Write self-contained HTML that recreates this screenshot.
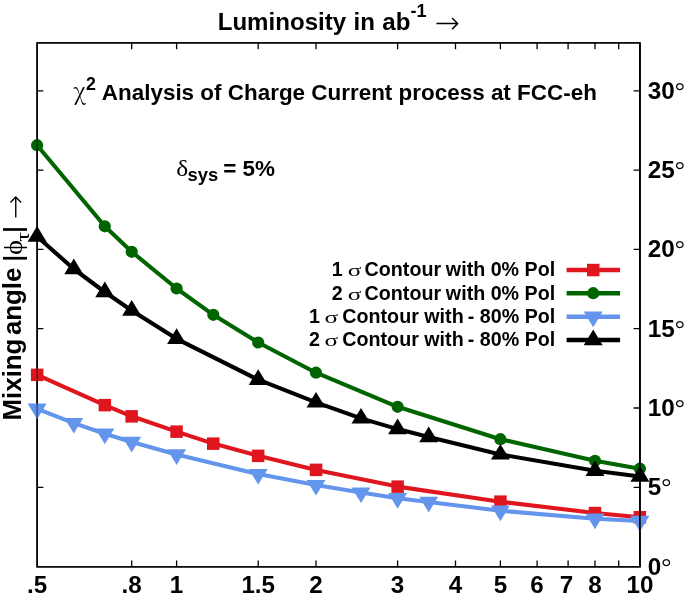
<!DOCTYPE html>
<html lang="en"><head><meta charset="utf-8"><title>Chi-square analysis plot</title>
<style>html,body{margin:0;padding:0;background:#fff;overflow:hidden}svg{display:block}</style>
</head><body>
<svg width="685" height="602" viewBox="0 0 685 602">
<rect width="685" height="602" fill="#fff"/>
<g stroke="#000" fill="none">
<rect x="37.1" y="42.9" width="602.8" height="524.0" stroke-width="1.7"/>
<path d="M131.7 42.9v6.3M131.7 566.9v-6.3" stroke-width="1.3"/>
<path d="M176.6 42.9v6.3M176.6 566.9v-6.3" stroke-width="1.3"/>
<path d="M258.2 42.9v6.3M258.2 566.9v-6.3" stroke-width="1.3"/>
<path d="M316.0 42.9v6.3M316.0 566.9v-6.3" stroke-width="1.3"/>
<path d="M397.6 42.9v6.3M397.6 566.9v-6.3" stroke-width="1.3"/>
<path d="M455.5 42.9v6.3M455.5 566.9v-6.3" stroke-width="1.3"/>
<path d="M500.4 42.9v6.3M500.4 566.9v-6.3" stroke-width="1.3"/>
<path d="M537.1 42.9v6.3M537.1 566.9v-6.3" stroke-width="1.3"/>
<path d="M568.1 42.9v6.3M568.1 566.9v-6.3" stroke-width="1.3"/>
<path d="M595.0 42.9v6.3M595.0 566.9v-6.3" stroke-width="1.3"/>
<path d="M618.7 42.9v6.3M618.7 566.9v-6.3" stroke-width="1.3"/>
<path d="M37.1 487.3h6.3M639.9 487.3h-6.3" stroke-width="1.3"/>
<path d="M37.1 408.0h6.3M639.9 408.0h-6.3" stroke-width="1.3"/>
<path d="M37.1 328.7h6.3M639.9 328.7h-6.3" stroke-width="1.3"/>
<path d="M37.1 249.4h6.3M639.9 249.4h-6.3" stroke-width="1.3"/>
<path d="M37.1 170.1h6.3M639.9 170.1h-6.3" stroke-width="1.3"/>
<path d="M37.1 90.8h6.3M639.9 90.8h-6.3" stroke-width="1.3"/>
</g>
<g fill="#000" font-family="Liberation Sans, Arial, Helvetica, sans-serif" font-weight="bold">
<text transform="translate(217.7 29.8) scale(1 1.015)" font-size="24.1" word-spacing="0.7">Luminosity in ab<tspan font-size="18" dy="-12.2">-1</tspan></text>
<text x="434.4" y="32.5" font-family="DejaVu Sans, sans-serif" font-weight="200" font-size="30">→</text>
<text transform="translate(73.6 100) scale(0.93 1)" font-family="Noto Serif CJK SC, Liberation Serif, serif" font-weight="normal" font-size="24">χ</text>
<text transform="translate(86 89.8) scale(1 1.015)" font-size="17.8" >2</text>
<text transform="translate(101.8 100.1) scale(1 1.015)" font-size="22.45" >Analysis of Charge Current process at FCC-eh</text>
<text transform="translate(176.2 175.6) scale(1.08 1.0)" font-family="Liberation Serif, Times New Roman, serif" font-weight="normal" font-size="23.5" >δ</text>
<text transform="translate(187.5 180.7) scale(1 1.015)" font-size="18.4" >sys</text>
<text transform="translate(223.2 175.7) scale(1 1.015)" font-size="22.5" >= 5%</text>
<text transform="translate(331.8 276.4) scale(1 1.015)" font-size="19.7" >1</text>
<text transform="translate(347.7 276.4) scale(1.45 1.0)" font-family="Liberation Serif, Times New Roman, serif" font-weight="normal" font-size="17.5" >σ</text>
<text transform="translate(364.6 276.4) scale(1 1.015)" font-size="19.7" >Contour</text>
<text transform="translate(555.2 276.4) scale(1 1.015)" font-size="19.7" text-anchor="end" >with 0% Pol</text>
<text transform="translate(331.8 299.7) scale(1 1.015)" font-size="19.7" >2</text>
<text transform="translate(347.7 299.7) scale(1.45 1.0)" font-family="Liberation Serif, Times New Roman, serif" font-weight="normal" font-size="17.5" >σ</text>
<text transform="translate(364.6 299.7) scale(1 1.015)" font-size="19.7" >Contour</text>
<text transform="translate(555.2 299.7) scale(1 1.015)" font-size="19.7" text-anchor="end" >with 0% Pol</text>
<text transform="translate(309 322.7) scale(1 1.015)" font-size="19.7" >1</text>
<text transform="translate(324.6 322.7) scale(1.45 1.0)" font-family="Liberation Serif, Times New Roman, serif" font-weight="normal" font-size="17.5" >σ</text>
<text transform="translate(342.3 322.7) scale(1 1.015)" font-size="19.7" >Contour</text>
<text transform="translate(424.3 322.7) scale(1 1.015)" font-size="19.7" >with</text>
<text transform="translate(555.3 322.7) scale(1 1.015)" font-size="19.7" text-anchor="end" >- 80% Pol</text>
<text transform="translate(309 345.8) scale(1 1.015)" font-size="19.7" >2</text>
<text transform="translate(324.6 345.8) scale(1.45 1.0)" font-family="Liberation Serif, Times New Roman, serif" font-weight="normal" font-size="17.5" >σ</text>
<text transform="translate(342.3 345.8) scale(1 1.015)" font-size="19.7" >Contour</text>
<text transform="translate(424.3 345.8) scale(1 1.015)" font-size="19.7" >with</text>
<text transform="translate(555.3 345.8) scale(1 1.015)" font-size="19.7" text-anchor="end" >- 80% Pol</text>
<text transform="translate(647.8 574.6) scale(1 1.015)" font-size="24.3" >0<tspan font-family="Liberation Serif, Times New Roman, serif" font-weight="normal" font-size="25.5">°</tspan></text>
<text transform="translate(647.8 495.3) scale(1 1.015)" font-size="24.3" >5<tspan font-family="Liberation Serif, Times New Roman, serif" font-weight="normal" font-size="25.5">°</tspan></text>
<text transform="translate(647.8 416.0) scale(1 1.015)" font-size="24.3" >10<tspan font-family="Liberation Serif, Times New Roman, serif" font-weight="normal" font-size="25.5">°</tspan></text>
<text transform="translate(647.8 336.7) scale(1 1.015)" font-size="24.3" >15<tspan font-family="Liberation Serif, Times New Roman, serif" font-weight="normal" font-size="25.5">°</tspan></text>
<text transform="translate(647.8 257.4) scale(1 1.015)" font-size="24.3" >20<tspan font-family="Liberation Serif, Times New Roman, serif" font-weight="normal" font-size="25.5">°</tspan></text>
<text transform="translate(647.8 178.1) scale(1 1.015)" font-size="24.3" >25<tspan font-family="Liberation Serif, Times New Roman, serif" font-weight="normal" font-size="25.5">°</tspan></text>
<text transform="translate(647.8 98.8) scale(1 1.015)" font-size="24.3" >30<tspan font-family="Liberation Serif, Times New Roman, serif" font-weight="normal" font-size="25.5">°</tspan></text>
<text transform="translate(37.1 593.1) scale(1 1.015)" font-size="24.2" text-anchor="middle" >.5</text>
<text transform="translate(131.7 593.1) scale(1 1.015)" font-size="24.2" text-anchor="middle" >.8</text>
<text transform="translate(176.6 593.1) scale(1 1.015)" font-size="24.2" text-anchor="middle" >1</text>
<text transform="translate(258.2 593.1) scale(1 1.015)" font-size="24.2" text-anchor="middle" >1.5</text>
<text transform="translate(316.0 593.1) scale(1 1.015)" font-size="24.2" text-anchor="middle" >2</text>
<text transform="translate(397.6 593.1) scale(1 1.015)" font-size="24.2" text-anchor="middle" >3</text>
<text transform="translate(455.5 593.1) scale(1 1.015)" font-size="24.2" text-anchor="middle" >4</text>
<text transform="translate(500.4 593.1) scale(1 1.015)" font-size="24.2" text-anchor="middle" >5</text>
<text transform="translate(537.1 593.1) scale(1 1.015)" font-size="24.2" text-anchor="middle" >6</text>
<text transform="translate(566.5 593.1) scale(1 1.015)" font-size="24.2" text-anchor="middle" >7</text>
<text transform="translate(595.0 593.1) scale(1 1.015)" font-size="24.2" text-anchor="middle" >8</text>
<text transform="translate(639.9 593.1) scale(1 1.015)" font-size="24.2" text-anchor="middle" >10</text>
<g transform="translate(20.8 419.6) rotate(-90)">
<text transform="translate(-0.8 0.2) scale(1.025 1.015)" font-size="25.2" word-spacing="-3.5">Mixing angle</text>
<text transform="translate(158.4 0.8) scale(0.85 1)" font-size="25.2">|</text>
<text transform="translate(164.6 1) scale(1.14 1.0)" font-family="Liberation Serif, Times New Roman, serif" font-weight="normal" font-size="25" >ϕ</text>
<text transform="translate(177.8 7.8) scale(1.25 1.0)" font-family="Liberation Serif, Times New Roman, serif" font-weight="normal" font-size="19.5" >τ</text>
<text transform="translate(187.1 0.8) scale(0.85 1)" font-size="25.2">|</text>
<text x="200.3" y="3.8" font-family="DejaVu Sans, sans-serif" font-weight="200" font-size="29">→</text>
</g>
</g>
<polyline points="37.1,374.9 104.8,405.1 131.7,416.3 176.6,431.6 213.3,443.6 258.2,455.8 316.0,469.9 397.6,486.6 500.4,501.7 595.0,513.0 639.9,517.2" fill="none" stroke="#e0161e" stroke-width="4.1" stroke-linejoin="round"/>
<rect x="30.9" y="368.6" width="12.5" height="12.5" fill="#e0161e"/>
<rect x="98.6" y="398.9" width="12.5" height="12.5" fill="#e0161e"/>
<rect x="125.4" y="410.1" width="12.5" height="12.5" fill="#e0161e"/>
<rect x="170.3" y="425.4" width="12.5" height="12.5" fill="#e0161e"/>
<rect x="207.0" y="437.4" width="12.5" height="12.5" fill="#e0161e"/>
<rect x="251.9" y="449.6" width="12.5" height="12.5" fill="#e0161e"/>
<rect x="309.8" y="463.6" width="12.5" height="12.5" fill="#e0161e"/>
<rect x="391.4" y="480.4" width="12.5" height="12.5" fill="#e0161e"/>
<rect x="494.2" y="495.4" width="12.5" height="12.5" fill="#e0161e"/>
<rect x="588.7" y="506.8" width="12.5" height="12.5" fill="#e0161e"/>
<rect x="633.6" y="511.0" width="12.5" height="12.5" fill="#e0161e"/>
<polyline points="37.1,145.2 104.8,226.3 131.7,251.8 176.6,288.5 213.3,314.8 258.2,342.5 316.0,372.7 397.6,406.8 500.4,439.2 595.0,460.8 639.9,468.7" fill="none" stroke="#006400" stroke-width="4.1" stroke-linejoin="round"/>
<circle cx="37.1" cy="145.2" r="6.1" fill="#006400"/>
<circle cx="104.8" cy="226.3" r="6.1" fill="#006400"/>
<circle cx="131.7" cy="251.8" r="6.1" fill="#006400"/>
<circle cx="176.6" cy="288.5" r="6.1" fill="#006400"/>
<circle cx="213.3" cy="314.8" r="6.1" fill="#006400"/>
<circle cx="258.2" cy="342.5" r="6.1" fill="#006400"/>
<circle cx="316.0" cy="372.7" r="6.1" fill="#006400"/>
<circle cx="397.6" cy="406.8" r="6.1" fill="#006400"/>
<circle cx="500.4" cy="439.2" r="6.1" fill="#006400"/>
<circle cx="595.0" cy="460.8" r="6.1" fill="#006400"/>
<circle cx="639.9" cy="468.7" r="6.1" fill="#006400"/>
<polyline points="37.1,408.8 73.8,423.1 104.8,433.7 131.7,442.0 176.6,454.5 258.2,474.1 316.0,485.1 361.0,492.6 397.6,498.2 428.7,502.0 500.4,510.7 595.0,518.7 639.9,521.0" fill="none" stroke="#6495ed" stroke-width="4.1" stroke-linejoin="round"/>
<polygon points="37.1,419.3 27.6,403.6 46.6,403.6" fill="#6495ed"/>
<polygon points="73.8,433.6 64.3,417.9 83.3,417.9" fill="#6495ed"/>
<polygon points="104.8,444.2 95.3,428.5 114.3,428.5" fill="#6495ed"/>
<polygon points="131.7,452.5 122.2,436.8 141.2,436.8" fill="#6495ed"/>
<polygon points="176.6,465.0 167.1,449.3 186.1,449.3" fill="#6495ed"/>
<polygon points="258.2,484.6 248.7,468.9 267.7,468.9" fill="#6495ed"/>
<polygon points="316.0,495.6 306.5,479.9 325.5,479.9" fill="#6495ed"/>
<polygon points="361.0,503.1 351.5,487.4 370.5,487.4" fill="#6495ed"/>
<polygon points="397.6,508.7 388.1,493.0 407.1,493.0" fill="#6495ed"/>
<polygon points="428.7,512.5 419.2,496.8 438.2,496.8" fill="#6495ed"/>
<polygon points="500.4,521.2 490.9,505.5 509.9,505.5" fill="#6495ed"/>
<polygon points="595.0,529.2 585.5,513.5 604.5,513.5" fill="#6495ed"/>
<polygon points="639.9,531.5 630.4,515.8 649.4,515.8" fill="#6495ed"/>
<polyline points="37.1,236.5 73.8,269.0 104.8,292.0 131.7,310.5 176.6,338.8 258.2,379.7 316.0,402.4 361.0,418.4 397.6,429.1 428.7,437.0 500.4,454.4 595.0,470.7 639.9,476.5" fill="none" stroke="#000" stroke-width="4.1" stroke-linejoin="round"/>
<polygon points="37.1,226.0 27.6,241.7 46.6,241.7" fill="#000"/>
<polygon points="73.8,258.5 64.3,274.2 83.3,274.2" fill="#000"/>
<polygon points="104.8,281.5 95.3,297.2 114.3,297.2" fill="#000"/>
<polygon points="131.7,300.0 122.2,315.7 141.2,315.7" fill="#000"/>
<polygon points="176.6,328.3 167.1,344.0 186.1,344.0" fill="#000"/>
<polygon points="258.2,369.2 248.7,384.9 267.7,384.9" fill="#000"/>
<polygon points="316.0,391.9 306.5,407.6 325.5,407.6" fill="#000"/>
<polygon points="361.0,407.9 351.5,423.6 370.5,423.6" fill="#000"/>
<polygon points="397.6,418.6 388.1,434.3 407.1,434.3" fill="#000"/>
<polygon points="428.7,426.5 419.2,442.2 438.2,442.2" fill="#000"/>
<polygon points="500.4,443.9 490.9,459.6 509.9,459.6" fill="#000"/>
<polygon points="595.0,460.2 585.5,475.9 604.5,475.9" fill="#000"/>
<polygon points="639.9,466.0 630.4,481.7 649.4,481.7" fill="#000"/>
<path d="M566.6 270H620.1" stroke="#e0161e" stroke-width="4.5"/>
<rect x="587.0" y="263.8" width="12.5" height="12.5" fill="#e0161e"/>
<path d="M566.6 293.2H620.1" stroke="#006400" stroke-width="4.5"/>
<circle cx="593.2" cy="293.2" r="6.1" fill="#006400"/>
<path d="M566.6 316.8H620.1" stroke="#6495ed" stroke-width="4.5"/>
<polygon points="593.2,327.3 583.7,311.6 602.7,311.6" fill="#6495ed"/>
<path d="M566.6 340H620.1" stroke="#000" stroke-width="4.5"/>
<polygon points="593.2,329.5 583.7,345.2 602.7,345.2" fill="#000"/>
<path d="M639.9 42.9V566.9" stroke="#000" stroke-width="1.7"/>
<path d="M37.1 42.9V566.9" stroke="#000" stroke-width="1.7" opacity="0.4"/>
</svg>
</body></html>
